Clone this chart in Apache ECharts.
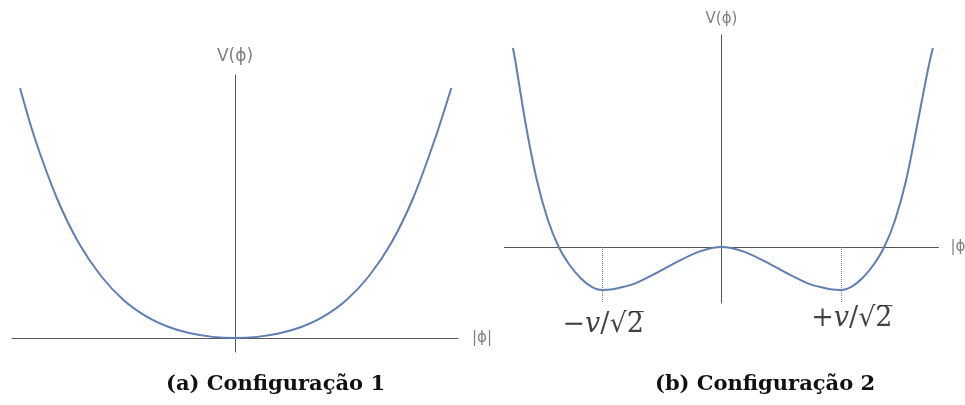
<!DOCTYPE html>
<html>
<head>
<meta charset="utf-8">
<script src="https://cdn.jsdelivr.net/npm/echarts@6/dist/echarts.min.js"></script>
<style>
  html, body { margin: 0; padding: 0; background: #fff; }
  #chart { width: 965px; height: 405px; }
</style>
</head>
<body>
<div id="chart"></div>
<script>
// Configuração 1: single-well potential V(phi)
const phi1 = [-0.964, -0.9, -0.8, -0.7, -0.6, -0.5, -0.4, -0.3, -0.2, -0.1, 0,
              0.1, 0.2, 0.3, 0.4, 0.5, 0.6, 0.7, 0.8, 0.9, 0.97];
const V1   = [1.0, 0.805, 0.562, 0.379, 0.247, 0.152, 0.0875, 0.045, 0.0186, 0.0045, 0,
              0.0045, 0.0186, 0.045, 0.0875, 0.152, 0.247, 0.379, 0.562, 0.805, 1.0];

// Configuração 2: double-well potential V(phi)
const phi2 = [-0.961, -0.95, -0.9, -0.85, -0.8, -0.75, -0.7, -0.65, -0.6, -0.55, -0.5, -0.45, -0.4,
              -0.3, -0.2, -0.1, 0, 0.1, 0.2, 0.3, 0.4, 0.45, 0.5, 0.55, 0.6, 0.65, 0.7, 0.75,
              0.8, 0.85, 0.9, 0.95, 0.974];
const V2   = [0.995, 0.93, 0.6, 0.33, 0.135, 0.0, -0.09, -0.155, -0.198, -0.215, -0.211, -0.199, -0.183,
              -0.13, -0.072, -0.022, 0, -0.022, -0.072, -0.13, -0.183, -0.199, -0.211, -0.215, -0.198, -0.155, -0.09, 0.0,
              0.135, 0.33, 0.6, 0.88, 0.995];

// minima positions -v/sqrt2 and +v/sqrt2
const minima = [-0.55, 0.55];
const minLabels = ['−{it|v}/√2̅', '+{it|v}/√2̅'];

const axisLabelV = 'V(ϕ)';
const axisLabelPhi = '|ϕ|';
const captions = [['(a) ', 'Configuração 1'], ['(b) ', 'Configuração 2']];

const curveColor = '#5f7fb4';
const axisColor = '#555';

const chart = echarts.init(document.getElementById('chart'));

function pairs(xs, ys) { return xs.map((x, i) => [x, ys[i]]); }

const axisCommon = {
  type: 'value',
  axisTick: { show: false },
  axisLabel: { show: false },
  splitLine: { show: false },
  axisLine: { onZero: true, lineStyle: { color: axisColor, width: 1 } }
};

const nameStyle = (size) => ({ color: '#808080', fontFamily: 'DejaVu Sans', fontSize: size });
const mathRich = {
  it: { fontFamily: 'DejaVu Serif', fontStyle: 'italic', fontSize: 27, color: '#111' }
};

chart.setOption({
  animation: false,
  backgroundColor: '#fff',
  grid: [
    { left: 12, top: 75, width: 446, height: 277, outerBoundsMode: 'none', containLabel: false },
    { left: 504.5, top: 35, width: 434, height: 268, outerBoundsMode: 'none', containLabel: false }
  ],
  xAxis: [
    Object.assign({}, axisCommon, { gridIndex: 0, min: -1, max: 1,
      name: axisLabelPhi, nameLocation: 'end', nameGap: 14, nameTextStyle: nameStyle(15) }),
    Object.assign({}, axisCommon, { gridIndex: 1, min: -1, max: 1,
      name: axisLabelPhi, nameLocation: 'end', nameGap: 12, nameTextStyle: nameStyle(15) })
  ],
  yAxis: [
    Object.assign({}, axisCommon, { gridIndex: 0, min: -0.056, max: 1.052,
      name: axisLabelV, nameLocation: 'end', nameGap: 10, nameTextStyle: nameStyle(17) }),
    Object.assign({}, axisCommon, { gridIndex: 1, min: -0.28, max: 1.06,
      name: axisLabelV, nameLocation: 'end', nameGap: 8, nameTextStyle: nameStyle(15) })
  ],
  title: captions.map((c, i) => ({
    left: i === 0 ? 161 : 650,
    top: 369,
    text: '{r|' + c[0] + '}{b|' + c[1] + '}',
    textStyle: {
      rich: {
        r: { fontFamily: 'DejaVu Serif', fontSize: 21, color: '#111' },
        b: { fontFamily: 'DejaVu Serif', fontSize: 21, fontWeight: 'bold', color: '#111' }
      }
    }
  })),
  series: [
    {
      type: 'line', xAxisIndex: 0, yAxisIndex: 0,
      data: pairs(phi1, V1), smooth: 0.3, showSymbol: false,
      lineStyle: { color: curveColor, width: 2 }
    },
    {
      type: 'line', xAxisIndex: 1, yAxisIndex: 1,
      data: pairs(phi2, V2), smooth: 0.3, showSymbol: false,
      lineStyle: { color: curveColor, width: 2 },
      markLine: {
        silent: true, symbol: 'none', label: { show: false },
        lineStyle: { color: '#888', type: 'dotted', width: 1 },
        data: minima.map(m => [{ coord: [m, 0] }, { coord: [m, -0.28] }])
      }
    },
    {
      type: 'scatter', xAxisIndex: 1, yAxisIndex: 1, symbolSize: 0,
      data: [
        { value: [minima[0], -0.28], label: { offset: [1, 6] } },
        { value: [minima[1], -0.28], label: { offset: [11, 0] } }
      ],
      label: {
        show: true,
        formatter: p => minLabels[p.dataIndex],
        fontFamily: 'DejaVu Serif', fontSize: 27, color: '#111',
        position: 'bottom', distance: 2,
        rich: mathRich
      }
    }
  ]
});
</script>
</body>
</html>
